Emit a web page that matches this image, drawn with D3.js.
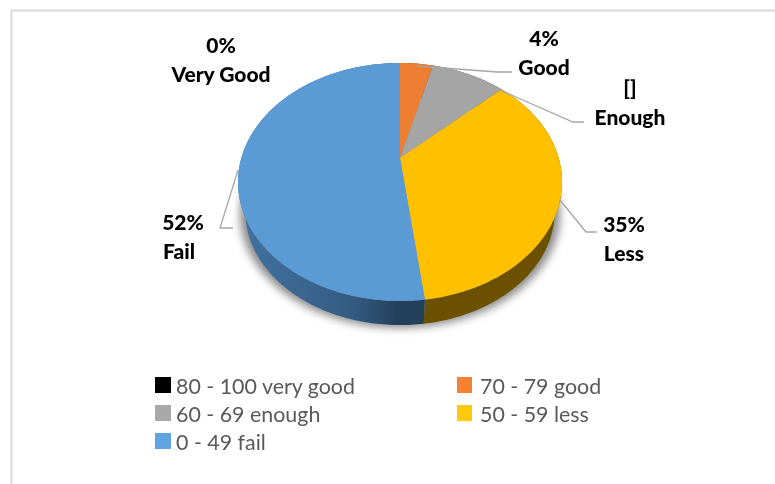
<!DOCTYPE html>
<html>
<head>
<meta charset="utf-8">
<script src="https://cdn.jsdelivr.net/npm/d3@7"></script>
<style>
  html, body { margin: 0; padding: 0; background: #fff; }
  svg { display: block; filter: blur(0.4px); }
</style>
</head>
<body>
<div id="chart"></div>
<script>
const categories = ["Very Good", "Good", "Enough", "Less", "Fail"];
const legendLabels = ["80 - 100 very good", "70 - 79 good", "60 - 69 enough", "50 - 59 less", "0 - 49 fail"];
const values = [0, 4, 9, 35, 52];
const valueLabels = ["0%", "4%", "[]", "35%", "52%"];
const colors = ["#000000", "#ed7d31", "#a5a5a5", "#ffc000", "#5b9bd5"];
const legendColors = ["#000000", "#f58233", "#a9a9a9", "#ffc90e", "#5fa3e0"];
const sideColors = ["#000000", "#7a3f18", "#555555", "#6b5000", "#2e5375"];

const width = 775;
const height = 484;

const svg = d3.select("#chart").append("svg")
  .attr("width", width)
  .attr("height", height)
  .style("font-family", "Lato, sans-serif");

svg.append("rect")
  .attr("x", 11.5).attr("y", 10.5)
  .attr("width", width).attr("height", height)
  .attr("fill", "#fff")
  .attr("stroke", "#d9d9d9")
  .attr("stroke-width", 2);

const defs = svg.append("defs");
defs.append("filter").attr("id", "shadow")
  .attr("x", "-20%").attr("y", "-20%").attr("width", "140%").attr("height", "140%")
  .append("feGaussianBlur").attr("stdDeviation", 4);

let blueSide = defs.append("linearGradient").attr("id", "blueSide")
  .attr("gradientUnits", "userSpaceOnUse")
  .attr("x1", 245).attr("x2", 425).attr("y1", 0).attr("y2", 0);
blueSide.append("stop").attr("offset", "0%").attr("stop-color", "#41719f");
blueSide.append("stop").attr("offset", "60%").attr("stop-color", "#345c83");
blueSide.append("stop").attr("offset", "85%").attr("stop-color", "#233f59");
blueSide.append("stop").attr("offset", "100%").attr("stop-color", "#233f59");

// perspective tilt: disc centre sits above the middle of the ellipse
const cx = 400, apexY = 158, topY = 63, bottomY = 301, halfW = 162;
const p = (topY + bottomY - apexY * 2) / (bottomY - topY);
const a = topY + topY * p - apexY;
const c = halfW / 1.021;
const midY = (topY + bottomY) / 2;

function project(angle) {
  let u = Math.sin(angle), v = Math.cos(angle);
  let w = 1 + p * v;
  return [cx + c * u / w, (apexY + a * v) / w];
}

// bottom face of the disc
const bottomScale = 0.955, bottomShift = 29.4;
function projectBottom(angle) {
  let pt = project(angle);
  return [cx + (pt[0] - cx) * bottomScale, midY + (pt[1] - midY) * bottomScale + bottomShift];
}

const slices = d3.pie().sort(null).value(d => d)(values);
const line = d3.line();

function arcPoints(fn, d) {
  let n = Math.max(2, Math.ceil((d.endAngle - d.startAngle) * 60));
  return d3.range(n + 1).map(i => fn(d.startAngle + (d.endAngle - d.startAngle) * i / n));
}

// soft shadow under the pie
svg.append("path")
  .attr("d", line(d3.range(121).map(i => {
    let pt = projectBottom(i / 120 * 2 * Math.PI);
    return [cx + (pt[0] - cx) * 1.035, pt[1] + 3];
  })))
  .attr("fill", "#8c8c8c")
  .attr("filter", "url(#shadow)");

// side wall
svg.append("g").selectAll("path")
  .data(slices)
  .enter()
  .append("path")
  .attr("d", d => {
    if (d.endAngle === d.startAngle) return null;
    return line(arcPoints(project, d).concat(arcPoints(projectBottom, d).reverse())) + "Z";
  })
  .attr("fill", (d, i) => i === 4 ? "url(#blueSide)" : sideColors[i]);

// top face
svg.append("g").selectAll("path")
  .data(slices)
  .enter()
  .append("path")
  .attr("d", d => {
    if (d.endAngle === d.startAngle) return null;
    return line([[cx, apexY]].concat(arcPoints(project, d))) + "Z";
  })
  .attr("fill", (d, i) => colors[i]);

// leader lines
const leaders = [
  [[417, 66], [497, 72], [512, 72]],
  [[500, 90], [573, 122], [584, 122]],
  [[560, 200], [586, 232], [597, 232]],
  [[238, 170], [220, 228], [233, 228]]
];
svg.append("g").selectAll("path")
  .data(leaders)
  .enter()
  .append("path")
  .attr("d", d => line(d))
  .attr("fill", "none")
  .attr("stroke", "#a6a6a6")
  .attr("stroke-width", 1.3);

// data labels
const labelPos = [[221, 53], [544, 46], [630, 96], [624, 232], [183, 230]];
const labels = svg.append("g").selectAll("text")
  .data(categories)
  .enter()
  .append("text")
  .attr("text-anchor", "middle")
  .attr("font-weight", 900)
  .attr("font-size", 21)
  .attr("fill", "#000");
labels.append("tspan")
  .attr("x", (d, i) => labelPos[i][0])
  .attr("y", (d, i) => labelPos[i][1])
  .text((d, i) => valueLabels[i]);
labels.append("tspan")
  .attr("x", (d, i) => i === 4 ? labelPos[i][0] - 4 : labelPos[i][0])
  .attr("dy", 29)
  .text(d => d);

// legend
const legendX = d3.scalePoint().domain([0, 1]).range([155, 457]);
const legendY = d3.scalePoint().domain([0, 1, 2]).range([386, 442]);
const legend = svg.append("g").selectAll("g")
  .data(legendLabels)
  .enter()
  .append("g")
  .attr("transform", (d, i) => `translate(${legendX(i % 2)},${legendY(Math.floor(i / 2))})`);
legend.append("rect")
  .attr("y", -9).attr("width", (d, i) => i % 2 ? 15 : 16).attr("height", 16)
  .attr("fill", (d, i) => legendColors[i]);
legend.append("text")
  .attr("x", (d, i) => i % 2 ? 23 : 21).attr("y", 8)
  .attr("font-size", 21.4)
  .attr("fill", "#595959")
  .text(d => d);
</script>
</body>
</html>
